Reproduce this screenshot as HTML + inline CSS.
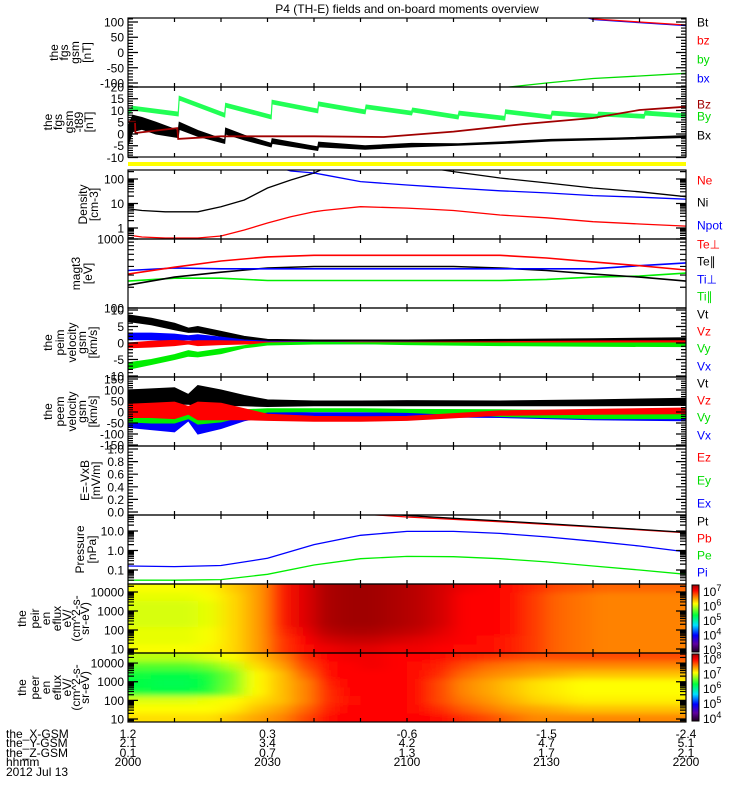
<!DOCTYPE html>
<html><head><meta charset="utf-8">
<style>
html,body{margin:0;padding:0;background:#fff;}
svg{display:block;font-family:"Liberation Sans",sans-serif;}
text{font-size:12px;fill:#000;}
</style></head>
<body>
<svg id="chart" width="750" height="800" viewBox="0 0 750 800" xmlns="http://www.w3.org/2000/svg">
<defs>
<filter id="blur" x="-10%" y="-30%" width="120%" height="160%"><feGaussianBlur stdDeviation="9 3"/></filter>
</defs>
<text x="407" y="13" text-anchor="middle">P4 (TH-E) fields and on-board moments overview</text>
</svg>
<script>
// ===== DATA =====
const p1_t=[0,60,90,100,110,120];
const p1_bz=[400,300,160,110,100,90];
const p1_bx=[400,300,158,108,98,88];
const p1_by_t=[0,60,82,90,100,110,120];
const p1_by=[-250,-160,-113,-100,-85,-77,-68];
const p2_by_t=[0,1,10.8,11,20.8,21,30.8,31,40.8,41,51,51.2,61,61.2,71,71.2,81,81.2,91,91.2,101,101.2,111,111.2,120];
const p2_by=[9,11,8.5,15.3,8,12.3,7.2,13.6,9.8,12.8,9.4,11.6,8.9,10.2,7.2,8.9,6.7,9.5,7.2,8.9,7.5,8.5,7.5,8.9,7.7];
const p2_bx_t=[0,1,3,6,10.8,11,15,20.8,21,25,30.8,31,40.8,41,51,61,71,81,91,105,120];
const p2_bx_hi=[3,8,7,5,1.5,5,1.5,-2.5,2.5,-0.5,-4,-2,-5.5,-3.5,-5,-4,-4.2,-3.3,-2.3,-1.7,-0.7];
const p2_bx_lo=[-5,1,2,0,-1.5,2,-1,-4,0,-2.5,-5.5,-4,-7,-5.5,-6.5,-5.5,-4.8,-4,-3,-2.3,-1.5];
const p2_bz_t=[0,1.5,1.6,10.6,10.8,20,40,55,70,85,100,110,120];
const p2_bz=[5.2,5.2,0.4,2.5,-2.1,-1,-1,-1.3,1,4.2,6.8,10.2,11.6];
const p3_t=[0,3,8,15,20,25,30,35,40,42,50,60,66,70,80,90,100,110,120];
const p3_ni=[6,5.2,4.6,4.6,7.4,13.9,43,91,176,260,350,350,260,200,110,69,43,30,19];
const p3_npot=[400,400,400,400,400,400,400,211,176,150,78,57,48,43,33,27,21,18,15];
const p3_ne=[0.52,0.43,0.39,0.39,0.47,0.83,1.6,2.9,4.6,5.2,7.4,6.5,5.7,5.2,3.4,2.6,1.8,1.45,1.2];
const p4_t=[0,10,20,30,40,50,60,70,80,90,100,110,120];
const p4_teperp=[310,390,480,550,580,580,580,580,580,530,465,410,355];
const p4_tiperp=[350,380,370,370,370,370,370,370,370,370,370,410,450];
const p4_tepar=[215,280,330,380,400,400,400,400,380,350,310,280,245];
const p4_tipar=[245,270,270,250,250,250,250,250,250,260,280,290,320];
const v_t=[0,5,10,13,15,20,25,30,40,50,60,80,100,120];
const p5_vt_hi=[8.5,7.5,6,4.5,5,3.5,2,1.1,0.9,0.9,0.9,1.1,1.3,1.6];
const p5_vt_lo=[6.5,5.5,4,3.2,3.3,2,1,0.7,0.6,0.6,0.5,0.4,0.4,0.3];
const p5_vx_hi=[3,3,2.7,2.2,2.5,1.8,0.9,0.5,0.3,0.2,0.2,0.2,0.2,0.2];
const p5_vx_lo=[1,1,0.8,1,0.8,0.3,0,-0.2,-0.2,-0.2,-0.3,-0.4,-0.5,-0.6];
const p5_vz_hi=[0,0.5,0.8,0.5,0.7,0.7,0.5,0.3,0.2,0.2,0.2,0.4,0.6,0.7];
const p5_vz_lo=[-1.5,-1.2,-0.8,-0.3,-0.8,-0.5,-0.3,-0.2,-0.1,-0.1,-0.3,-0.5,-0.6,-0.6];
const p5_vy_hi=[-6,-5,-3.5,-2.3,-2.8,-1.8,-0.8,0,0.2,0.1,0.1,0,0,0];
const p5_vy_lo=[-8,-6.5,-5,-4,-4.2,-3.2,-1.5,-0.6,-0.3,-0.2,-0.5,-0.8,-1,-1.1];
const p6_vt_hi=[100,105,110,80,120,100,75,55,50,50,52,50,55,62];
const p6_vt_lo=[35,35,35,35,30,30,28,25,28,28,28,28,28,30];
const p6_vz_hi=[35,40,45,25,45,40,15,-10,-20,-22,-20,5,12,18];
const p6_vz_lo=[-25,-25,-30,-10,-35,-35,-35,-38,-42,-42,-38,-15,-10,-8];
const p6_vy_hi=[10,5,5,0,10,5,10,15,15,15,12,10,5,3];
const p6_vy_lo=[-45,-50,-50,-30,-55,-45,-20,0,2,2,-2,-20,-30,-30];
const p6_vx_hi=[20,20,10,-10,10,5,5,0,-3,-3,-3,0,-5,-5];
const p6_vx_lo=[-70,-80,-90,-40,-100,-75,-40,-20,-20,-22,-22,-25,-35,-40];
const p8_t=[0,10,20,30,40,50,60,70,80,90,100,110,120];
const p8_pi=[0.16,0.15,0.17,0.4,2,6,9.5,9.5,7.5,5,3,1.7,0.85];
const p8_pe=[0.03,0.03,0.032,0.06,0.18,0.38,0.5,0.48,0.38,0.26,0.16,0.1,0.06];
const p8_pt=[200,200,180,150,120,90,62,45,33,24,17,12,8.5];
const p8_pb=[150,150,140,120,100,75,52,40,30,22,16,11.5,8.2];
const ion_flux=[
[6.15,6.15,6.15,6.2,6.35,6.5,6.95,7.15,7.35,7.4,7.4,7.35,7.3,7.2,7.1,7.05,7.0,6.9,6.8,6.75,6.7,6.7,6.7,6.7],
[6.1,6.1,6.1,6.15,6.3,6.5,6.95,7.15,7.35,7.4,7.4,7.35,7.3,7.2,7.05,7.05,7.0,6.85,6.7,6.65,6.6,6.6,6.6,6.6],
[6.05,6.05,6.05,6.1,6.3,6.5,6.95,7.15,7.35,7.4,7.4,7.35,7.3,7.2,7.05,7.05,7.0,6.85,6.7,6.65,6.6,6.6,6.6,6.6],
[6.05,6.05,6.05,6.1,6.3,6.5,6.95,7.15,7.35,7.4,7.4,7.35,7.3,7.2,7.05,7.05,7.0,6.85,6.7,6.65,6.6,6.6,6.6,6.6],
[6.05,6.05,6.05,6.1,6.3,6.5,6.95,7.15,7.35,7.4,7.4,7.35,7.3,7.2,7.05,7.05,7.0,6.85,6.7,6.65,6.6,6.6,6.6,6.6],
[6.1,6.1,6.1,6.15,6.3,6.5,6.9,7.1,7.3,7.35,7.35,7.3,7.25,7.15,7.05,7.05,7.0,6.85,6.7,6.65,6.6,6.6,6.6,6.6],
[6.1,6.1,6.1,6.15,6.3,6.5,6.85,7.05,7.2,7.25,7.25,7.2,7.15,7.1,7.05,7.0,6.95,6.85,6.7,6.65,6.6,6.6,6.6,6.6],
[6.15,6.15,6.15,6.2,6.3,6.5,6.85,7.0,7.1,7.15,7.15,7.1,7.1,7.05,7.0,7.0,6.95,6.85,6.7,6.65,6.6,6.6,6.6,6.6]];
const ele_flux=[
[6.9,6.9,6.9,7.0,7.1,7.3,7.5,7.8,7.95,8.0,8.0,7.95,7.95,7.9,7.85,7.8,7.75,7.7,7.7,7.7,7.7,7.7,7.7,7.7],
[6.6,6.6,6.6,6.7,6.9,7.2,7.4,7.7,7.9,7.95,8.0,7.95,7.9,7.85,7.7,7.6,7.55,7.5,7.5,7.5,7.5,7.5,7.5,7.5],
[6.4,6.35,6.35,6.45,6.7,7.1,7.3,7.6,7.9,7.95,7.95,7.95,7.9,7.8,7.6,7.5,7.45,7.4,7.35,7.3,7.3,7.3,7.3,7.3],
[6.35,6.3,6.3,6.4,6.7,7.1,7.3,7.5,7.85,7.95,7.95,7.95,7.9,7.7,7.5,7.4,7.3,7.2,7.15,7.1,7.1,7.1,7.1,7.1],
[6.4,6.35,6.35,6.45,6.75,7.1,7.3,7.5,7.8,7.95,7.95,7.95,7.9,7.7,7.5,7.4,7.3,7.2,7.15,7.1,7.1,7.1,7.1,7.1],
[7.0,7.0,7.0,7.05,7.1,7.2,7.3,7.5,7.8,7.9,7.95,7.95,7.9,7.7,7.55,7.45,7.35,7.25,7.2,7.15,7.15,7.15,7.15,7.15],
[7.1,7.1,7.1,7.1,7.15,7.3,7.4,7.6,7.85,7.95,7.95,7.95,7.9,7.8,7.65,7.55,7.45,7.4,7.35,7.3,7.3,7.3,7.3,7.3],
[7.2,7.2,7.2,7.2,7.3,7.4,7.5,7.7,7.9,7.95,7.95,7.95,7.95,7.9,7.8,7.7,7.6,7.5,7.5,7.5,7.5,7.5,7.5,7.5]];
const timeLabels=['2000','2030','2100','2130','2200'];
const xgsm=['1.2','0.3','-0.6','-1.5','-2.4'];
const ygsm=['2.1','3.4','4.2','4.7','5.1'];
const zgsm=['0.1','0.7','1.3','1.7','2.1'];

// ===== DRAWING =====
const NS='http://www.w3.org/2000/svg';
const svg=document.getElementById('chart');
const X0=128,X1=686,TMAX=120;
function xs(t){return X0+t/TMAX*(X1-X0);}
function mk(tag,attrs,parent){const e=document.createElementNS(NS,tag);for(const k in attrs)e.setAttribute(k,attrs[k]);(parent||svg).appendChild(e);return e;}
function lin(top,bot,a,b){return v=>bot-(v-a)/(b-a)*(bot-top);}
function lg(top,bot,a,b){return v=>bot-(Math.log10(Math.max(v,1e-9))-a)/(b-a)*(bot-top);}

const P=[
 {id:'fgs-gsm',top:18,bot:87,y:lin(18,87,-113,113),log:false,ticks:[[100,'100'],[50,'50'],[0,'0'],[-50,'-50'],[-100,'-100']],minor:{a:-110,b:110,s:10},title:['the','fgs','gsm','[nT]'],tx:[54,64,75,87]},
 {id:'fgs-t89',top:87,bot:157,y:lin(87,157,-9.8,20),log:false,ticks:[[20,'20'],[15,'15'],[10,'10'],[5,'5'],[0,'0'],[-5,'-5'],[-10,'-10']],minor:{a:-9,b:20,s:1},title:['the','fgs','gsm','-t89','[nT]'],tx:[48,58,69,79,89]},
 {id:'density',top:170,bot:239,y:lg(170,239,-0.449,2.367),log:true,lmin:-0.449,lmax:2.367,ticks:[[100,'100'],[10,'10'],[1,'1']],title:['Density','[cm-3]'],tx:[83,94]},
 {id:'temperature',top:239,bot:308,y:lg(239,308,2,3),log:true,lmin:2,lmax:3,ticks:[[1000,'1000'],[100,'100']],title:['magt3','[eV]'],tx:[76,88]},
 {id:'velocity-peim',top:308,bot:377,y:lin(308,377,-10.3,10.6),log:false,ticks:[[10,'10'],[5,'5'],[0,'0'],[-5,'-5'],[-10,'-10']],minor:{a:-10,b:10,s:1},title:['the','peim','velocity','gsm','[km/s]'],tx:[48,60,72,82,93]},
 {id:'velocity-peem',top:377,bot:446,y:lin(377,446,-154.5,159),log:false,ticks:[[150,'150'],[100,'100'],[50,'50'],[0,'0'],[-50,'-50'],[-100,'-100'],[-150,'-150']],minor:{a:-150,b:150,s:10},title:['the','peem','velocity','gsm','[km/s]'],tx:[48,60,72,82,93]},
 {id:'efield',top:446,bot:515,y:lin(446,515,-0.048,1.048),log:false,ticks:[[1,'1.0'],[0.8,'0.8'],[0.6,'0.6'],[0.4,'0.4'],[0.2,'0.2'],[0,'0.0']],minor:{a:0,b:1,s:0.05},title:['E=-VxB','[mV/m]'],tx:[85,96]},
 {id:'pressure',top:515,bot:584,y:lg(515,584,-1.718,1.82),log:true,lmin:-1.718,lmax:1.82,ticks:[[10,'10.0'],[1,'1.0'],[0.1,'0.1']],title:['Pressure','[nPa]'],tx:[80,92]},
 {id:'ion-spectrogram',top:584,bot:653,y:lg(584,653,0.79,4.42),log:true,lmin:0.79,lmax:4.42,ticks:[[10000,'10000'],[1000,'1000'],[100,'100'],[10,'10']],title:['the','peir','en','eflux','eV/','(cm^2-s-','sr-eV)'],tx:[22,35,46,57,67,76,85]},
 {id:'electron-spectrogram',top:653,bot:722,y:lg(653,722,0.84,4.54),log:true,lmin:0.84,lmax:4.54,ticks:[[10000,'10000'],[1000,'1000'],[100,'100'],[10,'10']],title:['the','peer','en','eflux','eV/','(cm^2-s-','sr-eV)'],tx:[22,35,46,57,67,76,85]}
];

const defs=svg.querySelector('defs');
P.forEach((p,i)=>{const c=mk('clipPath',{id:'clip'+i},defs);mk('rect',{x:X0,y:p.top,width:X1-X0,height:p.bot-p.top},c);});

const CMAP=[[0,[32,0,32]],[0.12,[96,0,160]],[0.25,[0,0,255]],[0.4,[0,224,255]],[0.55,[0,255,64]],[0.72,[255,255,0]],[0.82,[255,128,0]],[0.92,[255,0,0]],[1,[160,0,0]]];
function cmap(f){f=Math.max(0,Math.min(1,f));for(let i=1;i<CMAP.length;i++){if(f<=CMAP[i][0]){const a=CMAP[i-1],b=CMAP[i];const r=(f-a[0])/(b[0]-a[0]);const c=a[1].map((v,k)=>Math.round(v+(b[1][k]-v)*r));return 'rgb('+c.join(',')+')';}}return 'rgb(160,0,0)';}

function drawSpec(pi,grid,fmin,fmax,name){
 const p=P[pi];
 const g=mk('g',{'clip-path':'url(#clip'+pi+')'});
 
 
 const gb=mk('g',{filter:'url(#blur)'},g);
 const nr=grid.length,nc=grid[0].length,h=(p.bot-p.top)/nr;
 for(let r=0;r<nr;r++)for(let c=0;c<nc;c++){
  let x=xs(c*5),w=xs((c+1)*5)-x,y=p.top+r*h,hh=h;
  if(c===0){x-=30;w+=30;} if(c===nc-1){w+=30;}
  if(r===0){y-=12;hh+=12;} if(r===nr-1){hh+=12;}
  const cell=mk('rect',{x:x,y:y,width:w+0.6,height:hh+0.6,fill:cmap((grid[r][c]-fmin)/(fmax-fmin))},gb);
  
  
 }
}
drawSpec(8,ion_flux,3,7.4,'ion-energy-spectrogram');
drawSpec(9,ele_flux,4,8.3,'electron-energy-spectrogram');

const yb=mk('rect',{x:X0,y:162,width:X1-X0,height:4,fill:'#ffff00'});



function line(pi,ts,vs,color,name,w){
 const p=P[pi];
 const pts=ts.map((t,i)=>xs(t).toFixed(1)+','+p.y(vs[i]).toFixed(1)).join(' ');
 const e=mk('polyline',{points:pts,fill:'none',stroke:color,'stroke-width':w||1.3,'clip-path':'url(#clip'+pi+')'});
 
 
}
function band(pi,ts,lo,hi,color,name){
 const p=P[pi];
 const a=ts.map((t,i)=>xs(t).toFixed(1)+','+p.y(hi[i]).toFixed(1));
 const b=ts.map((t,i)=>xs(t).toFixed(1)+','+p.y(lo[i]).toFixed(1)).reverse();
 const e=mk('polygon',{points:a.concat(b).join(' '),fill:color,stroke:color,'stroke-width':1,'clip-path':'url(#clip'+pi+')'});
 
 
}
line(0,p1_by_t,p1_by,'#00dd00','series-by');
line(0,p1_t,p1_bx,'#0000ff','series-bx');
line(0,p1_t,p1_bz,'#ff0000','series-bz');
const NOISE=0.8;
band(1,p2_by_t,p2_by.map(v=>v-NOISE),p2_by.map(v=>v+NOISE),'#22ff55','series-by-t89');
band(1,p2_bx_t,p2_bx_lo,p2_bx_hi,'#000000','series-bx-t89');
line(1,p2_bz_t,p2_bz,'#a00000','series-bz-t89',1.8);
line(2,p3_t,p3_ni,'#000000','series-ni');
line(2,p3_t,p3_npot,'#0000ff','series-npot');
line(2,p3_t,p3_ne,'#ff0000','series-ne');
line(3,p4_t,p4_tipar,'#00ee00','series-ti-par',1.6);
line(3,p4_t,p4_tepar,'#000000','series-te-par',1.6);
line(3,p4_t,p4_tiperp,'#0000ff','series-ti-perp',1.6);
line(3,p4_t,p4_teperp,'#ff0000','series-te-perp',1.6);
band(4,v_t,p5_vt_lo,p5_vt_hi,'#000000','series-vt-peim');
band(4,v_t,p5_vx_lo,p5_vx_hi,'#0000ff','series-vx-peim');
band(4,v_t,p5_vz_lo,p5_vz_hi,'#ff0000','series-vz-peim');
band(4,v_t,p5_vy_lo,p5_vy_hi,'#00ee00','series-vy-peim');
band(5,v_t,p6_vt_lo,p6_vt_hi,'#000000','series-vt-peem');
band(5,v_t,p6_vx_lo,p6_vx_hi,'#0000ff','series-vx-peem');
band(5,v_t,p6_vy_lo,p6_vy_hi,'#00ee00','series-vy-peem');
band(5,v_t,p6_vz_lo,p6_vz_hi,'#ff0000','series-vz-peem');
line(7,p8_t,p8_pe,'#00ee00','series-pe');
line(7,p8_t,p8_pi,'#0000ff','series-pi');
line(7,p8_t,p8_pb,'#ff0000','series-pb');
line(7,p8_t,p8_pt,'#000000','series-pt');

P.forEach((p,i)=>{
 const g=mk('g',{});
 
 
 const fr=mk('rect',{x:X0,y:p.top,width:X1-X0,height:p.bot-p.top,fill:'none',stroke:'#000','stroke-width':1.2},g);
 
 
 let d='';
 for(let t=10;t<TMAX;t+=10){const x=xs(t);d+='M'+x+' '+p.top+'v4M'+x+' '+p.bot+'v-4';}
 p.ticks.forEach(tk=>{const y=p.y(tk[0]);d+='M'+X0+' '+y+'h10M'+X1+' '+y+'h-10';});
 if(p.log){for(let e=Math.floor(p.lmin);e<=Math.ceil(p.lmax);e++)for(let m=2;m<10;m++){const y=p.y(m*Math.pow(10,e));if(y>p.top+0.5&&y<p.bot-0.5)d+='M'+X0+' '+y+'h6M'+X1+' '+y+'h-6';}}
 else{for(let v=p.minor.a;v<=p.minor.b+1e-9;v+=p.minor.s){const y=p.y(v);if(y>p.top+0.5&&y<p.bot-0.5)d+='M'+X0+' '+y+'h5M'+X1+' '+y+'h-5';}}
 const tp=mk('path',{d:d,stroke:'#000','stroke-width':1.2,fill:'none'},g);
 
 
 p.ticks.forEach(tk=>{
  const tx=mk('text',{x:124,y:p.y(tk[0])+4.5,'text-anchor':'end'},g);
  tx.textContent=tk[1];
  
  
 });
 const cy=(p.top+p.bot)/2;
 p.title.forEach((s,k)=>{
  const tt=mk('text',{x:p.tx[k],y:cy,'text-anchor':'middle','dominant-baseline':'central',transform:'rotate(-90 '+p.tx[k]+' '+cy+')'},g);
  tt.textContent=s;
  
  
 });
});

const legends=[
 [22,'Bt','#000'],[40,'bz','#f00'],[59,'by','#0d0'],[78,'bx','#00f'],
 [104,'Bz','#a00000'],[116,'By','#0d0'],[135,'Bx','#000'],
 [180,'Ne','#f00'],[202,'Ni','#000'],[225,'Npot','#00f'],
 [244,'Te\u22a5','#f00'],[261,'Te\u2225','#000'],[279,'Ti\u22a5','#00f'],[296,'Ti\u2225','#0d0'],
 [314,'Vt','#000'],[331,'Vz','#f00'],[348,'Vy','#0d0'],[366,'Vx','#00f'],
 [383,'Vt','#000'],[400,'Vz','#f00'],[417,'Vy','#0d0'],[435,'Vx','#00f'],
 [457,'Ez','#f00'],[480,'Ey','#0d0'],[503,'Ex','#00f'],
 [521,'Pt','#000'],[538,'Pb','#f00'],[555,'Pe','#0d0'],[572,'Pi','#00f']];
legends.forEach(l=>{
 const t=mk('text',{x:697,y:l[0]+4.5,fill:l[2]});
 t.setAttribute('style','fill:'+l[2]);
 t.textContent=l[1];
 
 
});

function colorbar(pi,fmin,fmax,labels,name){
 const p=P[pi];
 const id='cb'+pi;
 const lgd=mk('linearGradient',{id:id,x1:0,y1:1,x2:0,y2:0},defs);
 CMAP.forEach(s=>mk('stop',{offset:s[0],'stop-color':cmap(s[0])},lgd));
 const r=mk('rect',{x:692,y:p.top+1,width:7,height:p.bot-p.top-2,fill:'url(#'+id+')',stroke:'#000','stroke-width':1});
 
 
 labels.forEach(e=>{
  const y=p.bot-1-(e-fmin)/(fmax-fmin)*(p.bot-p.top-2);
  const t=mk('text',{x:703,y:y+5});
  t.innerHTML='10<tspan dy="-5" font-size="9">'+e+'</tspan>';
  
  
 });
}
colorbar(8,2.8,7.4,[7,6,5,4,3],'ion-colorbar');
colorbar(9,3.8,8.3,[8,7,6,5,4],'electron-colorbar');

const rows=[['the_X-GSM',xgsm,738],['the_Y-GSM',ygsm,747],['the_Z-GSM',zgsm,757],['hhmm',timeLabels,766]];
rows.forEach(r=>{
 const t=mk('text',{x:6,y:r[2],'font-size':'11'});
 t.textContent=r[0];
 
 
 r[1].forEach((v,k)=>{
  const tv=mk('text',{x:xs(k*30),y:r[2],'text-anchor':'middle','font-size':'11'});
  tv.textContent=v;
  
  
 });
});
const dt=mk('text',{x:6,y:776,'font-size':'11'});
dt.textContent='2012 Jul 13';


</script>
</body></html>
